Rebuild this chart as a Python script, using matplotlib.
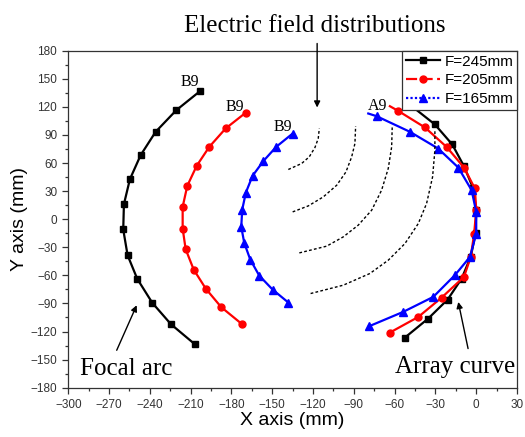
import matplotlib
matplotlib.use("Agg")
import matplotlib.pyplot as plt
from matplotlib.lines import Line2D
from matplotlib.ticker import MultipleLocator

plt.rcParams['font.family'] = ['Liberation Sans', 'DejaVu Sans']

# Focal arcs (left side), bottom -> top
f245_x = [-207, -224.5, -238.2, -249.3, -256.4, -259.6, -259.1, -254.7, -246.8, -235.8, -220.6, -203.2]
f245_y = [-133.5, -112.2, -89.4, -63.7, -38.5, -11.0, 16.0, 42.7, 68.4, 93.3, 116.4, 136.7]
f205_x = [-172.5, -187.5, -198.8, -207.8, -213.7, -215.9, -215.9, -212.5, -205.6, -196.3, -184.3, -169.4]
f205_y = [-111.8, -94.0, -74.4, -53.8, -32.0, -10.0, 13.2, 35.6, 57.0, 77.3, 96.9, 113.9]
f165_x = [-138.2, -149.8, -159.6, -166.2, -170.6, -172.8, -172.1, -169.4, -164.5, -156.6, -147.1, -135.0]
f165_y = [-89.0, -75.1, -60.2, -43.1, -25.3, -8.2, 10.3, 28.5, 46.3, 62.0, 77.3, 91.5]

# Array curves (right side), bottom -> top
a245_x = [-52.4, -35.3, -21.0, -10.7, -4.0, -0.5, 0, -2.2, -9.0, -17.6, -30.4, -52.0]
a245_y = [-126.4, -106.1, -85.8, -63.4, -40.0, -15.0, 10.0, 32.8, 56.6, 79.8, 101.2, 126.0]
a205_x = [-63.5, -42.6, -25.4, -9.0, -4.0, -1.5, 0, -1.0, -9.0, -21.8, -37.7, -57.4, -63.5]
a205_y = [-121.1, -104.4, -83.7, -61.6, -40.0, -15.3, 10.0, 32.8, 55.2, 77.2, 98.0, 115.7, 120.7]
a165_x = [-78.7, -53.7, -31.6, -15.7, -4.6, 0, 0, -3.4, -13.2, -28.0, -48.7, -73.2, -79.4]
a165_y = [-114.3, -99.0, -83.0, -59.8, -40.3, -15.3, 7.8, 31.0, 55.2, 75.5, 93.3, 110.0, 112.9]

# Electric field distribution curves (dotted)
e1_x = [-138.2, -128.4, -122.8, -118.6, -116.2, -115.4]
e1_y = [53.1, 59.5, 66.6, 76.6, 86.2, 96.9]
e2_x = [-135.0, -123.5, -112.5, -102.6, -95.8, -91.6, -89.2, -88.7]
e2_y = [7.8, 14.2, 23.8, 36.3, 50.5, 66.6, 80.9, 99.4]
e3_x = [-130.1, -110.0, -97.8, -86.8, -76.9, -69.6, -64.7, -62.2, -61.8]
e3_y = [-36.0, -28.8, -18.9, -6.4, 9.6, 31.0, 54.2, 77.2, 98.0]
e4_x = [-121.8, -97.8, -78.2, -64.7, -52.4, -42.6, -36.5, -32.1, -30.4, -30.4]
e4_y = [-79.4, -70.5, -58.0, -43.8, -26.0, -4.6, 16.8, 45.2, 73.7, 95.1]

labels = ["F=245mm", "F=205mm", "F=165mm"]

fig = plt.figure(figsize=(5.25, 4.37), dpi=100)
ax = fig.add_axes([0.1301, 0.1128, 0.8547, 0.7712])

lw = 1.6
ax.plot(f245_x, f245_y, color='black', lw=lw, marker='s', ms=4.2)
ax.plot(a245_x, a245_y, color='black', lw=lw, marker='s', ms=4.2)
ax.plot(f205_x, f205_y, color='red', lw=lw, marker='o', ms=5)
ax.plot(a205_x, a205_y, color='red', lw=lw, marker='o', ms=5, markevery=slice(0, 12))
ax.plot(f165_x, f165_y, color='blue', lw=lw, marker='^', ms=5.5)
ax.plot(a165_x, a165_y, color='blue', lw=lw, marker='^', ms=5.5, markevery=slice(0, 12))

for ex, ey in [(e1_x, e1_y), (e2_x, e2_y), (e3_x, e3_y), (e4_x, e4_y)]:
    ax.plot(ex, ey, color='black', lw=1.0, ls=(0, (2, 1.6)))

ax.set_xlim(-300, 30)
ax.set_ylim(-180, 180)
ax.xaxis.set_major_locator(MultipleLocator(30))
ax.xaxis.set_minor_locator(MultipleLocator(15))
ax.yaxis.set_major_locator(MultipleLocator(30))
ax.yaxis.set_minor_locator(MultipleLocator(15))
ax.tick_params(which='major', direction='out', length=4.5, width=0.9, labelsize=8.5, colors='#333333')
ax.tick_params(which='minor', direction='out', length=2.5, width=0.9, colors='#333333')
for s in ax.spines.values():
    s.set_color('#333333')
    s.set_linewidth(0.9)

ax.set_xlabel("X axis (mm)", fontsize=14, labelpad=1)
ax.set_ylabel("Y axis (mm)", fontsize=14, labelpad=2)

# legend (styles as in the original figure legend)
handles = [
    Line2D([], [], color='black', lw=lw, ls='-', marker='s', ms=4.2),
    Line2D([], [], color='red', lw=lw, ls=(0, (5, 2)), marker='o', ms=5),
    Line2D([], [], color='blue', lw=lw, ls=(0, (1, 1)), marker='^', ms=5.5),
]
leg = ax.legend(handles, labels, loc='upper right', bbox_to_anchor=(1, 1), borderaxespad=0,
                fontsize=11, frameon=True, fancybox=False, edgecolor='#333333',
                handlelength=2.2, handletextpad=0.3, labelspacing=0.32,
                borderpad=0.25, framealpha=1)
leg.get_frame().set_linewidth(0.9)

serif = ['Liberation Serif', 'DejaVu Serif']
ax.text(-210.5, 142.1, "B9", family=serif, fontsize=11.5, ha='center', va='baseline')
ax.text(-177.2, 115.7, "B9", family=serif, fontsize=11.5, ha='center', va='baseline')
ax.text(-141.9, 94.3, "B9", family=serif, fontsize=11.5, ha='center', va='baseline')
ax.text(-72.5, 116.5, "A9", family=serif, fontsize=11.5, ha='center', va='baseline')

ax.text(-291.4, -166.7, "Focal arc", family=serif, fontsize=18, ha='left', va='baseline')
ax.text(-59.8, -164.5, "Array curve", family=serif, fontsize=18, ha='left', va='baseline')
fig.text(0.600, 0.9275, "Electric field distributions", family=serif, fontsize=18,
         ha='center', va='baseline')

arrow = dict(arrowstyle='-|>', lw=1.0, color='black', mutation_scale=9, shrinkA=0, shrinkB=0)
ax.annotate("", xy=(-117, 119.3), xytext=(-117, 187.7), arrowprops=arrow, annotation_clip=False)
ax.annotate("", xy=(-249.7, -91.9), xytext=(-264.4, -140), arrowprops=arrow)
ax.annotate("", xy=(-13.2, -88.4), xytext=(-6.0, -138.2), arrowprops=arrow)

fig.savefig("out.png", dpi=100)
